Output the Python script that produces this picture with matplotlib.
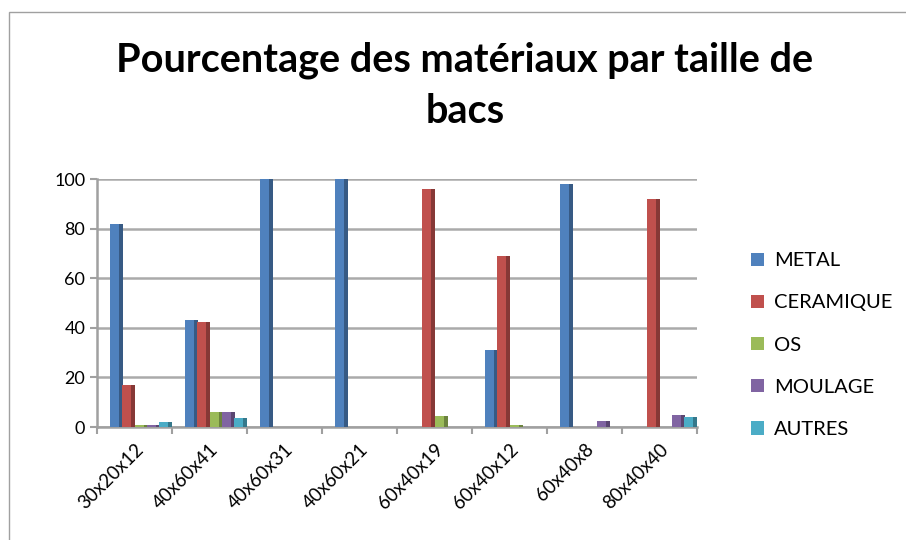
import matplotlib.pyplot as plt
import matplotlib.colors as mcolors
import matplotlib.transforms as mtransforms
import numpy as np
from matplotlib.patches import Rectangle

plt.rcParams["font.family"] = ["Lato", "DejaVu Sans"]

# Data
sizes = ["30x20x12", "40x60x41", "40x60x31", "40x60x21",
         "60x40x19", "60x40x12", "60x40x8", "80x40x40"]
materials = ["METAL", "CERAMIQUE", "OS", "MOULAGE", "AUTRES"]
metal = [82, 43, 100, 100, 0, 31, 98, 0]
ceramique = [17, 42.5, 0, 0, 96, 69, 0, 92]
os_ = [1, 6, 0, 0, 4.5, 1, 0, 0]
moulage = [1, 6, 0, 0, 0, 0, 2.5, 5]
autres = [2, 3.5, 0, 0, 0, 0, 0, 4]
series = [metal, ceramique, os_, moulage, autres]
colors = ["#4F81BD", "#C0504D", "#9BBB59", "#8064A2", "#4BACC6"]

fig = plt.figure(figsize=(9.06, 5.4), dpi=100)
# outer frame of the chart area
fig.patches.append(Rectangle((9 / 906, -0.01), 1.0, 1 - 12 / 540 + 0.01,
                             transform=fig.transFigure, fill=False,
                             edgecolor="#a0a0a0", lw=1))

ax = fig.add_axes([97 / 906, 1 - 427 / 540, 600 / 906, (427 - 179) / 540])

x = np.arange(len(sizes))
w = 0.165
depth = 0.045
start = 0.17
for k, (vals, col) in enumerate(zip(series, colors)):
    left = x + start + k * w
    dark = np.array(mcolors.to_rgb(col)) * 0.7
    # side face for a pseudo 3D look
    ax.bar(left + w - depth, vals, width=depth + 0.01, align="edge",
           color=dark, zorder=3)
    ax.bar(left, vals, width=w - depth, align="edge", color=col,
           label=materials[k], zorder=4)

ax.set_xlim(0, len(sizes))
ax.set_ylim(0, 100)
ax.set_yticks(range(0, 101, 20))
ax.set_xticks(range(len(sizes) + 1))
ax.set_xticklabels([])
ax.set_xticks(x + 0.5, minor=True)
ax.set_xticklabels(sizes, minor=True, rotation=45, ha="right",
                   rotation_mode="anchor", fontsize=13.5)
shift = mtransforms.ScaledTranslation(14 / 100, 0, fig.dpi_scale_trans)
for lbl in ax.get_xticklabels(minor=True):
    lbl.set_transform(lbl.get_transform() + shift)
ax.tick_params(axis="x", which="minor", length=0, pad=10)
ax.tick_params(axis="x", which="major", length=5, color="#a0a0a0", width=1.5)
ax.tick_params(axis="y", length=5, color="#a0a0a0", width=1.5, labelsize=13)

ax.grid(axis="y", color="#aaaaaa", lw=1.8, zorder=0)
for s in ["top", "right"]:
    ax.spines[s].set_visible(False)
for s in ["left", "bottom"]:
    ax.spines[s].set_color("#a0a0a0")
    ax.spines[s].set_linewidth(1.8)

fig.text(0.513, 0.888, "Pourcentage des matériaux par taille de",
         ha="center", va="center", fontsize=28.5, fontweight="bold")
fig.text(0.513, 0.793, "bacs", ha="center", va="center",
         fontsize=28.5, fontweight="bold")

ax.legend(loc="center left", bbox_to_anchor=(1.06, 0.33), frameon=False,
          fontsize=14.5, handlelength=0.65, handleheight=0.65,
          labelspacing=1.25, handletextpad=0.5)

plt.savefig("out.png", dpi=100)
